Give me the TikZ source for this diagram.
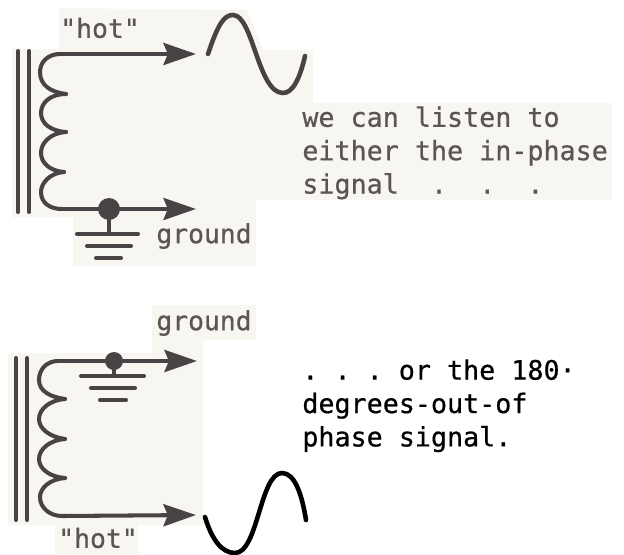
\documentclass[tikz,border=0pt]{standalone}
\usepackage{fontspec}
\setmonofont[FakeBold=0.6]{DejaVu Sans Mono}
\usetikzlibrary{arrows.meta}
\definecolor{paper}{HTML}{F7F6F0}
\definecolor{ink}{HTML}{4A4345}
\definecolor{typed}{HTML}{5A5654}

\begin{document}
\begin{tikzpicture}[
  x=0.02cm, y=-0.02cm,
  wire/.style={draw=ink, line width=2.3pt, line cap=round},
  sigout/.style={wire, -{Stealth[length=18.5pt, width=12.5pt, inset=2.5pt]}},
  sinewave/.style={line width=2.6pt, line cap=round},
  lbl/.style={font=\ttfamily\fontsize{15}{19}\selectfont, text=typed, inner sep=0pt},
  note/.style={lbl, align=left, anchor=north west, font=\ttfamily\fontsize{15.2}{19}\selectfont}]
  \useasboundingbox (0,0) rectangle (624,554);

  % scanned paper behind the upper and lower drawing
  \fill[paper] (59,8) -- (247,10) -- (263,50) -- (313,50) -- (313,103) -- (612,103) -- (612,200) -- (256,200)
    -- (256,266) -- (73,266) -- (73,217) -- (12,217) -- (12,49) -- (59,49) -- cycle;
  \fill[paper] (152,305) -- (256,305) -- (256,340) -- (203,340) -- (203,525) -- (138,525) -- (138,554)
    -- (55,554) -- (55,525) -- (8,525) -- (8,353) -- (152,353) -- cycle;

  % upper winding
  \coordinate (upcore) at (18,51);
  \coordinate (upcoreb) at (29,51);
  \coordinate (uphot) at (196,54);
  \coordinate (upgnd) at (196,209);
  \coordinate (updot) at (109,209);
  \draw[wire] (upcore) -- (18,212);
  \draw[wire] (upcoreb) -- (29,212);
  \draw[wire] (40,72) .. controls (40,62) and (48,54) .. (60,54);
  \draw[wire] (66,94) .. controls (50,92) and (40,85) .. (40,72);
  \draw[wire] (66,94) .. controls (50,94) and (41,103) .. (41,113) .. controls (41,123) and (50,131) .. (66,132);
  \draw[wire] (66,132) .. controls (50,133) and (41,143) .. (41,153) .. controls (41,163) and (50,171) .. (64,172);
  \draw[wire] (64,172) .. controls (50,173) and (41,183) .. (41,192) .. controls (41,203) and (50,209) .. (62,209);
  \draw[sigout] (60,54) -- (uphot);
  \draw[sigout] (62,209) -- (upgnd);
  \fill[ink] (updot) circle (11);
  \draw[wire] (updot) -- (109,234);
  \draw[wire] (77,234) -- (138,234);
  \draw[wire] (87,246) -- (131,246);
  \draw[wire] (96,258) -- (121,258);
  \draw[wire, sinewave] (208,54) .. controls (218,24) and (224,15) .. (233,15) .. controls (253,15) and (258,93) .. (283,93)
    .. controls (293,93) and (300,78) .. (305,56);

  % lower winding
  \coordinate (locore) at (16,358);
  \coordinate (locoreb) at (27,358);
  \coordinate (lognd) at (197,361);
  \coordinate (lohot) at (196,515);
  \coordinate (lodot) at (114,361);
  \draw[wire] (locore) -- (16,520);
  \draw[wire] (locoreb) -- (27,520);
  \draw[wire] (39,380) .. controls (39,369) and (47,361) .. (58,361);
  \draw[wire] (65,399) .. controls (50,397) and (39,391) .. (39,380);
  \draw[wire] (65,399) .. controls (50,400) and (39,409) .. (39,419) .. controls (39,429) and (50,437) .. (65,439);
  \draw[wire] (65,439) .. controls (50,440) and (39,449) .. (39,459) .. controls (39,469) and (50,477) .. (65,478);
  \draw[wire] (65,478) .. controls (50,479) and (40,488) .. (40,497) .. controls (40,508) and (50,516) .. (62,516);
  \draw[sigout] (58,361) -- (lognd);
  \draw[sigout] (62,516) -- (lohot);
  \fill[ink] (lodot) circle (9);
  \draw[wire] (lodot) -- (114,376);
  \draw[wire] (81,376) -- (144,376);
  \draw[wire] (91,388) -- (135,388);
  \draw[wire] (100,400) -- (126,400);
  \draw[sinewave] (205,517) .. controls (212,540) and (222,553) .. (235,553) .. controls (258,553) and (260,473) .. (282,473)
    .. controls (295,473) and (302,495) .. (306,520);

  % labels
  \node[lbl] (hotup) at (100,28) {"hot"};
  \node[lbl] (gndup) at (204,236) {ground};
  \node[lbl] (gndlo) at (204,323) {ground};
  \node[lbl] (hotlo) at (98,538) {"hot"};
  \node[note] (noteup) at (302,106) {we can listen to\\either the in-phase\\signal\ \ . \ . \ .};
  \node[note, text=black] (notelo) at (302,359) {. . . or the 180·\\degrees-out-of\\phase signal.};
\end{tikzpicture}
\end{document}
